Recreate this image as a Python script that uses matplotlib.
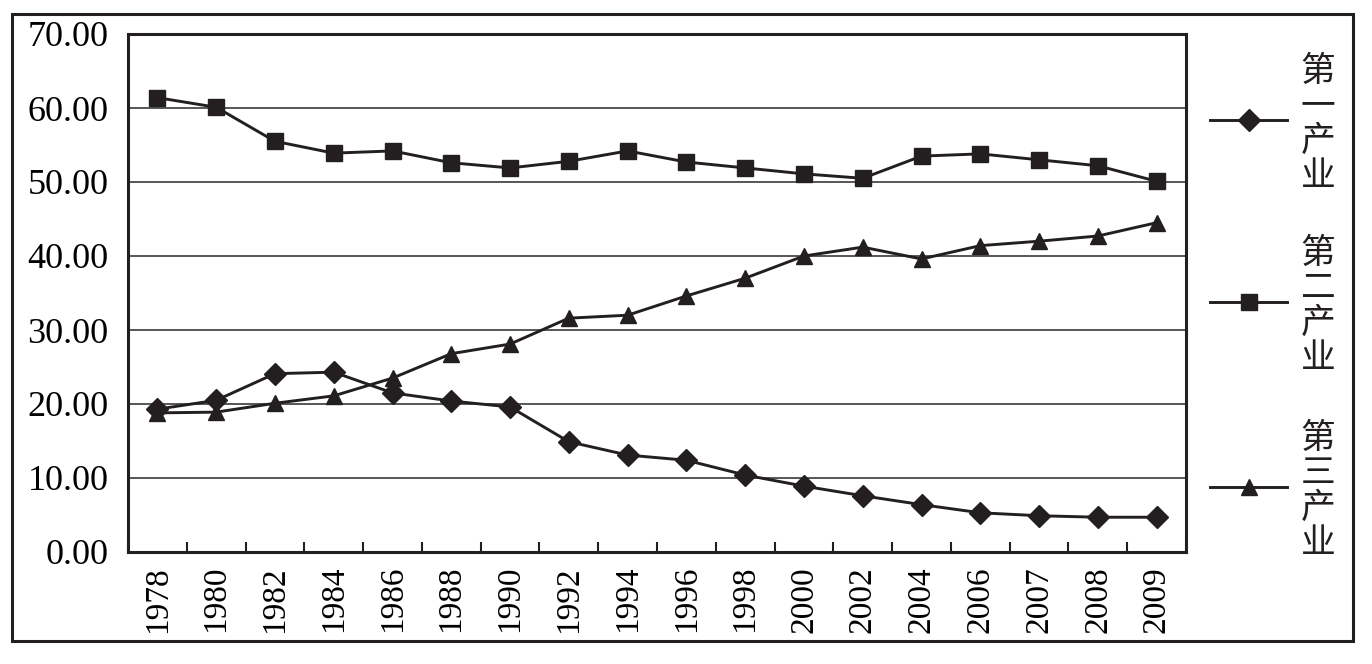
import numpy as np
import matplotlib
matplotlib.use("Agg")
from matplotlib import pyplot as plt
from matplotlib.lines import Line2D
from matplotlib.patches import Rectangle

years = ["1978", "1980", "1982", "1984", "1986", "1988", "1990", "1992", "1994",
         "1996", "1998", "2000", "2002", "2004", "2006", "2007", "2008", "2009"]

primary = [19.3, 20.5, 24.1, 24.3, 21.5, 20.4, 19.6, 14.9, 13.1,
           12.4, 10.4, 8.9, 7.6, 6.4, 5.3, 4.9, 4.7, 4.7]
secondary = [61.4, 60.1, 55.5, 53.9, 54.2, 52.6, 51.9, 52.8, 54.2,
             52.7, 51.9, 51.1, 50.5, 53.5, 53.8, 53.0, 52.2, 50.1]
tertiary = [18.8, 18.9, 20.1, 21.1, 23.5, 26.8, 28.1, 31.6, 32.0,
            34.6, 37.0, 40.0, 41.2, 39.6, 41.4, 42.0, 42.7, 44.5]

series_names = ["第一产业", "第二产业", "第三产业"]
y_ticks = [0, 10, 20, 30, 40, 50, 60, 70]

ink = "#231f20"
serif = ["Liberation Serif", "DejaVu Serif"]
cjk = ["Noto Sans CJK SC", "DejaVu Sans"]

fig = plt.figure(figsize=(13.72, 6.64), dpi=100)
W, H = 1372, 664

# outer frame
fig.patches.append(Rectangle((12 / W, 1 - 641 / H), (1353 - 12) / W, (641 - 14) / H,
                             transform=fig.transFigure, fill=False,
                             edgecolor=ink, linewidth=2.2))

ax = fig.add_axes([128 / W, 1 - 552 / H, (1186 - 128) / W, (552 - 34) / H])
x = np.arange(len(years))

styles = [("D", 11), ("s", 11), ("^", 12)]
for vals, (mk, ms) in zip([primary, secondary, tertiary], styles):
    ax.plot(x, vals, color=ink, linewidth=2.1, marker=mk, markersize=ms,
            markerfacecolor=ink, markeredgecolor=ink, zorder=3)

ax.set_xlim(-0.5, len(years) - 0.5)
ax.set_ylim(0, 70)
ax.set_yticks(y_ticks)
ax.set_yticklabels([f"{v:.2f}" for v in y_ticks], fontfamily=serif, fontsize=26)
ax.yaxis.grid(True, color="#3a3a3a", linewidth=1.2)
ax.set_axisbelow(True)
ax.tick_params(axis="y", length=0, pad=14)

ax.set_xticks(x)
ax.set_xticklabels(years, rotation=90, fontfamily=serif, fontsize=24)
ax.tick_params(axis="x", which="major", length=0, pad=10)
ax.set_xticks(np.arange(len(years) + 1) - 0.5, minor=True)
ax.tick_params(axis="x", which="minor", direction="in", length=7, width=1.5, color=ink)

for sp in ax.spines.values():
    sp.set_color(ink)
    sp.set_linewidth(2.2)

# legend drawn by hand: line+marker with vertically stacked label
leg_y = [120, 302, 487]
for name, (mk, ms), ly in zip(series_names, styles, leg_y):
    yy = 1 - ly / H
    fig.add_artist(Line2D([1210 / W, 1287 / W], [yy, yy], transform=fig.transFigure,
                          color=ink, linewidth=2.1))
    fig.add_artist(Line2D([1249 / W], [yy], transform=fig.transFigure, marker=mk,
                          markersize=ms, color=ink, markerfacecolor=ink, linestyle="none"))
    fig.text(1318 / W, 1 - (ly + 4) / H, "\n".join(name), ha="center", va="center",
             fontfamily=cjk, fontsize=25, linespacing=1.0, color=ink)

fig.savefig("out.png", dpi=100)
